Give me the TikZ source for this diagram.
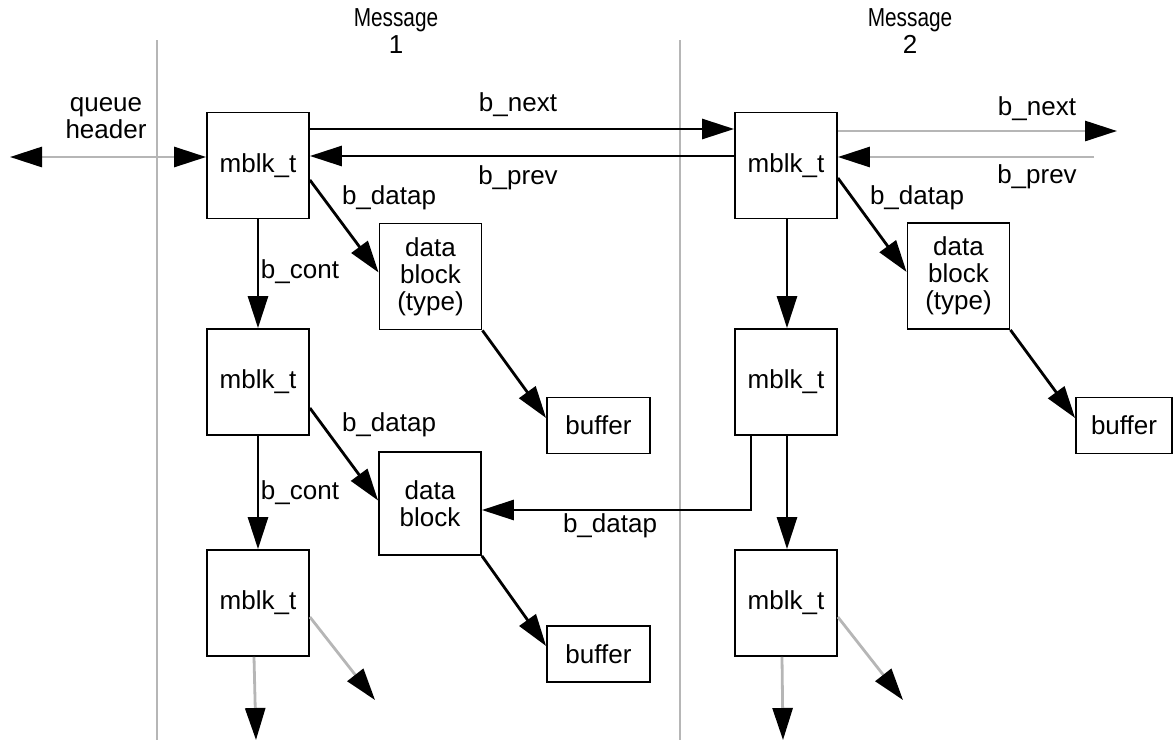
\documentclass[tikz,border=0pt]{standalone}
\usepackage{graphicx}
\usepackage{fontspec}
\setmainfont{Liberation Sans}
\usetikzlibrary{arrows.meta}
\definecolor{sepgray}{RGB}{182,182,182}
\newcommand{\narrowword}[1]{\scalebox{0.8}[1]{#1}}
\begin{document}
\begin{tikzpicture}[x=1pt,y=-1pt,
  txt/.style={font=\fontsize{26}{27}\selectfont, inner sep=0pt, align=center},
  blk/.style={txt, draw=black, line width=1.8pt, minimum width=102pt, minimum height=106pt},
  bufbox/.style={txt, draw=black, line width=1.8pt, minimum width=103pt, minimum height=56pt},
  link/.style={-{Triangle[length=32pt,width=20pt,color=black]}, line width=2.8pt, draw=black},
  ghost/.style={-{Triangle[length=32pt,width=20pt,color=black]}, line width=2.8pt, draw=sepgray},
  ghostboth/.style={{Triangle[length=32pt,width=20pt,color=black]}-{Triangle[length=32pt,width=20pt,color=black]}, line width=2.8pt, draw=sepgray},
  sep/.style={draw=sepgray, line width=2.5pt}]
\useasboundingbox (0,0) rectangle (1173,740);

% separators between the queue header and the two messages
\coordinate (s1t) at (157,40);
\coordinate (s1b) at (157,740);
\coordinate (s2t) at (680,40);
\coordinate (s2b) at (680,740);
\draw[sep] (s1t) -- (s1b);
\draw[sep] (s2t) -- (s2b);

% headings
\node[txt] (msg1) at (396,31) {\narrowword{Message}\\1};
\node[txt] (msg2) at (910,31) {\narrowword{Message}\\2};
\node[txt] (qh) at (106,118) {queue\\header};

% message blocks
\node[blk] (m1) at (258,165.5) {mblk\_t};
\node[blk] (m2) at (258,382) {mblk\_t};
\node[blk] (m3) at (258,603) {mblk\_t};
\node[blk] (m4) at (786,165.5) {mblk\_t};
\node[blk] (m5) at (786,382) {mblk\_t};
\node[blk] (m6) at (786,603) {mblk\_t};

% data blocks and buffers
\node[blk] (d1) at (430.5,276.5) {data\\block\\(type)};
\node[blk, minimum height=103pt] (d2) at (430,503.5) {data\\block};
\node[blk] (d3) at (958.5,276) {data\\block\\(type)};
\node[bufbox] (b1) at (598.5,425.5) {buffer};
\node[bufbox] (b2) at (598.5,654) {buffer};
\node[bufbox, minimum width=96pt] (b3) at (1124,425.5) {buffer};

% pointer labels
\node[txt] (lnext) at (518,105) {b\_next};
\node[txt] (lprev) at (518,178) {b\_prev};
\node[txt] (lnext2) at (1037,109) {b\_next};
\node[txt] (lprev2) at (1037,177) {b\_prev};
\node[txt] (ld1) at (389,198) {b\_datap};
\node[txt] (ld2) at (389,425) {b\_datap};
\node[txt] (ld3) at (917,198) {b\_datap};
\node[txt] (ld4) at (610,526) {b\_datap};
\node[txt] (lc1) at (300,272) {b\_cont};
\node[txt] (lc2) at (300,493) {b\_cont};

% queue header link
\coordinate (qend) at (10,157);
\draw[ghostboth] (qend) -- ([yshift=8.5pt]m1.west);

% b_next / b_prev between the messages
\draw[link] ([yshift=36.5pt]m1.east) -- ([yshift=36.5pt]m4.west);
\draw[link] ([yshift=9.5pt]m4.west) -- ([yshift=9.5pt]m1.east);
\coordinate (gnext) at (1117,131);
\coordinate (gprev) at (1094,157);
\draw[ghost] ([yshift=34.5pt]m4.east) -- (gnext);
\draw[ghost] (gprev) -- ([yshift=8.5pt]m4.east);

% message 1
\draw[link] ([yshift=-14.5pt]m1.east) -- ([yshift=4pt]d1.west);
\draw[link] (m1.south) -- (m2.north);
\draw[link] ([yshift=-26pt]m2.east) -- ([yshift=3pt]d2.west);
\draw[link] (m2.south) -- (m3.north);
\draw[link] (d1.south east) -- ([yshift=7.5pt]b1.west);
\draw[link] (d2.south east) -- ([yshift=8pt]b2.west);

% message 2
\draw[link] ([yshift=-12.5pt]m4.east) -- ([yshift=4pt]d3.west);
\draw[link] (d3.south east) -- ([yshift=7.5pt]b3.west);
\draw[link] ([xshift=1pt]m4.south) -- ([xshift=1pt]m5.north);
\draw[link] ([xshift=1pt]m5.south) -- ([xshift=1pt]m6.north);
\draw[link] ([xshift=-35pt]m5.south) |- ([yshift=-6.5pt]d2.east);

% continuations past the last blocks
\coordinate (m3down) at (256,740);
\coordinate (m3diag) at (375,700);
\coordinate (m6down) at (783,740);
\coordinate (m6diag) at (903,700);
\draw[ghost] ([xshift=-4pt]m3.south) -- (m3down);
\draw[ghost] ([yshift=-14pt]m3.east) -- (m3diag);
\draw[ghost] ([xshift=-4pt]m6.south) -- (m6down);
\draw[ghost] ([yshift=-14pt]m6.east) -- (m6diag);
\end{tikzpicture}
\end{document}
